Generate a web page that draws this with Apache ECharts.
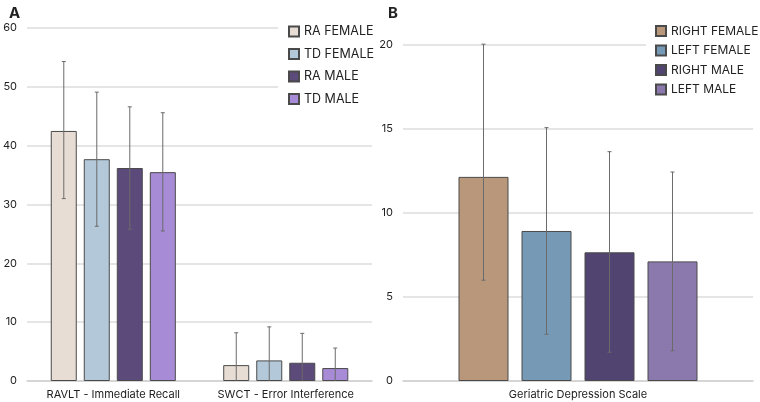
<!DOCTYPE html>
<html>
<head>
<meta charset="utf-8">
<script src="https://cdn.jsdelivr.net/npm/echarts@6/dist/echarts.min.js"></script>
<style>
  html, body { margin: 0; padding: 0; background: #fff; }
  #main { width: 760px; height: 402px; }
</style>
</head>
<body>
<div id="main"></div>
<script>
// panel A data
var catsA = ['RAVLT - Immediate Recall', 'SWCT - Error Interference']
var namesA = ['RA FEMALE', 'TD FEMALE', 'RA MALE', 'TD MALE']
var meansA = [[42.5, 2.7], [37.7, 3.5], [36.2, 3.1], [35.5, 2.2]]
var lowA = [[31.0, -2.8], [26.3, -2.2], [25.8, -1.9], [25.5, -1.2]]
var highA = [[54.3, 8.2], [49.1, 9.2], [46.6, 8.1], [45.6, 5.6]]
var ticksA = [0, 10, 20, 30, 40, 50, 60]

// panel B data
var catsB = ['Geriatric Depression Scale']
var namesB = ['RIGHT FEMALE', 'LEFT FEMALE', 'RIGHT MALE', 'LEFT MALE']
var meansB = [[12.15], [8.93], [7.66], [7.12]]
var lowB = [[6.0], [2.78], [1.71], [1.8]]
var highB = [[20.05], [15.08], [13.65], [12.44]]
var ticksB = [0, 5, 10, 15, 20]

var colorsA = ['#e8ddd4', '#b3c8d8', '#5c4a7a', '#a78bd6']
var colorsB = ['#b8977b', '#7699b6', '#524470', '#8b79ad']

var font = 'Inter, "Noto Sans", sans-serif'
var chart = echarts.init(document.getElementById('main'))

// error bars drawn with a custom series, shifted to sit on each bar
function errSeries(idx, k, cats, lows, highs, bw, gap, clip) {
    var data = []
    for (var c = 0; c < cats.length; c++) {
        data.push([c, lows[k][c], highs[k][c]])
    }
    return {
        type: 'custom',
        xAxisIndex: idx,
        yAxisIndex: idx,
        clip: clip,
        z: 5,
        silent: true,
        data: data,
        renderItem: function (params, api) {
            var c = api.value(0)
            var lo = api.coord([c, api.value(1)])
            var hi = api.coord([c, api.value(2)])
            var x = lo[0] + (k - 1.5) * (bw + gap)
            var st = { stroke: '#6b6b6b', lineWidth: 1 }
            return {
                type: 'group',
                children: [
                    { type: 'line', shape: { x1: x, y1: lo[1], x2: x, y2: hi[1] }, style: st },
                    { type: 'line', shape: { x1: x - 2, y1: lo[1], x2: x + 2, y2: lo[1] }, style: st },
                    { type: 'line', shape: { x1: x - 2, y1: hi[1], x2: x + 2, y2: hi[1] }, style: st }
                ]
            }
        }
    }
}

var series = []
for (var i = 0; i < 4; i++) {
    series.push({
        name: namesA[i],
        type: 'bar',
        xAxisIndex: 0,
        yAxisIndex: 0,
        barWidth: 26,
        barGap: '27%',
        data: meansA[i],
        itemStyle: { color: colorsA[i], borderColor: '#4a4a4a', borderWidth: 1 }
    })
}
for (var i = 0; i < 4; i++) {
    series.push({
        name: namesB[i],
        type: 'bar',
        xAxisIndex: 1,
        yAxisIndex: 1,
        barWidth: 50,
        barGap: '26%',
        data: meansB[i],
        itemStyle: { color: colorsB[i], borderColor: '#4a4a4a', borderWidth: 1 }
    })
}
for (var i = 0; i < 4; i++) {
    series.push(errSeries(0, i, catsA, lowA, highA, 26, 7, true))
    series.push(errSeries(1, i, catsB, lowB, highB, 50, 13, false))
}

function yAxis(idx, ticks) {
    return {
        type: 'value',
        gridIndex: idx,
        min: ticks[0],
        max: ticks[ticks.length - 1],
        interval: ticks[1] - ticks[0],
        axisLine: { show: false },
        axisTick: { show: false },
        axisLabel: { color: '#222', fontSize: 11, fontFamily: font, margin: 10 },
        splitLine: { lineStyle: { color: '#dcdcdc', width: 1.5 } }
    }
}
function xAxis(idx, cats) {
    return {
        type: 'category',
        gridIndex: idx,
        data: cats,
        axisLine: { lineStyle: { color: '#d0d0d0', width: 1.5 } },
        axisTick: { show: false },
        axisLabel: { color: '#222', fontSize: 11, fontFamily: font, margin: 8, interval: 0 }
    }
}

var option = {
    backgroundColor: '#fff',
    animation: false,
    title: [
        { text: 'A', left: 4, top: 1, textStyle: { fontSize: 15, fontWeight: 'bold', color: '#222', fontFamily: font } },
        { text: 'B', left: 383, top: 1, textStyle: { fontSize: 15, fontWeight: 'bold', color: '#222', fontFamily: font } }
    ],
    grid: [
        { left: 22, right: 388, top: 28, bottom: 21 },
        { left: 403, right: 7, top: 45, bottom: 21 }
    ],
    xAxis: [xAxis(0, catsA), xAxis(1, catsB)],
    yAxis: [yAxis(0, ticksA), yAxis(1, ticksB)],
    legend: [
        {
            data: namesA,
            orient: 'vertical',
            left: 278,
            top: 20,
            padding: [5, 4, 5, 10],
            backgroundColor: '#fff',
            itemWidth: 10,
            itemHeight: 10,
            itemGap: 9.5,
            icon: 'rect',
            textStyle: { fontSize: 12.5, color: '#222', fontFamily: font }
        },
        {
            data: namesB,
            orient: 'vertical',
            left: 646,
            top: 20,
            padding: [5, 1, 5, 9],
            backgroundColor: '#fff',
            itemWidth: 10,
            itemHeight: 10,
            itemGap: 7.5,
            icon: 'rect',
            textStyle: { fontSize: 12, color: '#222', fontFamily: font }
        }
    ],
    series: series
}
chart.setOption(option)
</script>
</body>
</html>
